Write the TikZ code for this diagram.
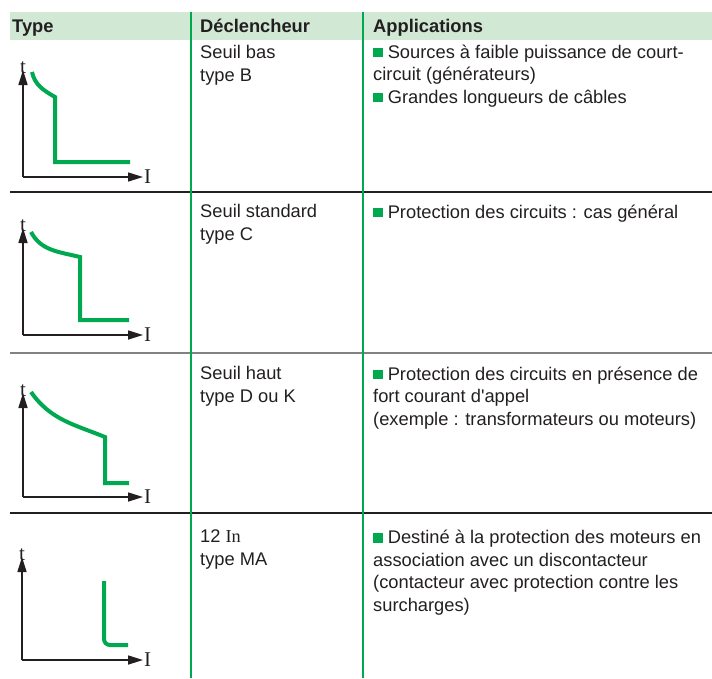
\documentclass[tikz,border=0pt]{standalone}
\usepackage{fontspec}
\setmainfont{Liberation Sans}
\newfontfamily\axfont{Liberation Serif}
\usetikzlibrary{arrows.meta}

\definecolor{curvegreen}{RGB}{0,168,80}
\definecolor{headgreen}{RGB}{208,232,212}
\definecolor{txtgray}{RGB}{35,31,32}
\definecolor{rulegray}{RGB}{130,130,130}

\newcommand{\sqbul}{\textcolor{curvegreen}{\rule[1pt]{9.5pt}{9.5pt}}\ }

\begin{document}
\begin{tikzpicture}[x=1pt, y=-1pt, text=txtgray,
  head/.style={anchor=base west, inner sep=0pt,
               font=\fontsize{18.3}{22.5}\selectfont\bfseries},
  cell/.style={anchor=base west, inner sep=0pt, align=left,
               font=\fontsize{18.3}{22.5}\selectfont},
  lbl/.style={inner sep=1pt, font=\fontsize{21}{21}\selectfont\axfont},
  ax/.style={draw=txtgray, line width=1.6pt,
             -{Triangle[length=15pt,width=9pt]}},
  curve/.style={draw=curvegreen, line width=4pt},
  vline/.style={draw=curvegreen, line width=1.1pt},
  hline/.style={draw=txtgray, line width=1.3pt}]

  \useasboundingbox (0,0) rectangle (712,678);

  % header band
  \fill[headgreen] (10,12) rectangle (712,40);
  \node[head] (hdtype) at (12,32)  {Type};
  \node[head] (hdtrip) at (200,32) {Déclencheur};
  \node[head] (hdapp)  at (373,32) {Applications};

  % table rules
  \draw[hline] (10,192) -- (712,192);
  \draw[hline, draw=rulegray] (10,353) -- (712,353);
  \draw[hline] (10,513) -- (712,513);
  \draw[vline] (191,12) -- (191,678);
  \draw[vline] (363,12) -- (363,678);

  % cells: base anchor sits on the last line
  % row 1: type B
  \coordinate (o1) at (23,177);
  \coordinate (ty1) at (23,70);
  \coordinate (ix1) at (143,177);
  \draw[ax] (o1) -- (ty1);
  \draw[ax] (o1) -- (ix1);
  \node[lbl, anchor=base] (t1) at (23,73) {t};
  \node[lbl, anchor=west] (i1) at (ix1) {I};
  \draw[curve] (32,72) to[out=-78, in=150] (55,97) -- (55,162) -- (130,162);
  \node[cell] (trip1) at (200,81) {Seuil bas\\type B};
  \node[cell] (app1)  at (373,103) {\sqbul Sources à faible puissance de court-\\
    circuit (générateurs)\\\sqbul Grandes longueurs de câbles};

  % row 2: type C
  \coordinate (o2) at (23,335);
  \coordinate (ty2) at (23,228);
  \coordinate (ix2) at (143,335);
  \draw[ax] (o2) -- (ty2);
  \draw[ax] (o2) -- (ix2);
  \node[lbl, anchor=base] (t2) at (23,231) {t};
  \node[lbl, anchor=west] (i2) at (ix2) {I};
  \draw[curve] (31,232) to[out=-62, in=166] (80,257) -- (80,320) -- (129,320);
  \node[cell] (trip2) at (200,240) {Seuil standard\\type C};
  \node[cell] (app2)  at (373,218) {\sqbul Protection des circuits : cas général};

  % row 3: type D ou K
  \coordinate (o3) at (23,497);
  \coordinate (ty3) at (23,393);
  \coordinate (ix3) at (143,497);
  \draw[ax] (o3) -- (ty3);
  \draw[ax] (o3) -- (ix3);
  \node[lbl, anchor=base] (t3) at (23,396) {t};
  \node[lbl, anchor=west] (i3) at (ix3) {I};
  \draw[curve] (31,392) to[out=-55, in=158] (105,437) -- (105,483) -- (129,483);
  \node[cell] (trip3) at (200,402) {Seuil haut\\type D ou K};
  \node[cell] (app3)  at (373,425) {\sqbul Protection des circuits en présence de\\
    fort courant d\textquotesingle appel\\(exemple : transformateurs ou moteurs)};

  % row 4: type MA
  \coordinate (o4) at (22,660);
  \coordinate (ty4) at (22,557);
  \coordinate (ix4) at (143,660);
  \draw[ax] (o4) -- (ty4);
  \draw[ax] (o4) -- (ix4);
  \node[lbl, anchor=base] (t4) at (22,560) {t};
  \node[lbl, anchor=west] (i4) at (ix4) {I};
  \draw[curve, rounded corners=6pt] (104,581) -- (104,645) -- (128,645);
  \node[cell] (trip4) at (200,565) {12 {\axfont In}\\type MA};
  \node[cell] (app4)  at (373,611) {\sqbul Destiné à la protection des moteurs en\\
    association avec un discontacteur\\(contacteur avec protection contre les\\
    surcharges)};

\end{tikzpicture}
\end{document}
